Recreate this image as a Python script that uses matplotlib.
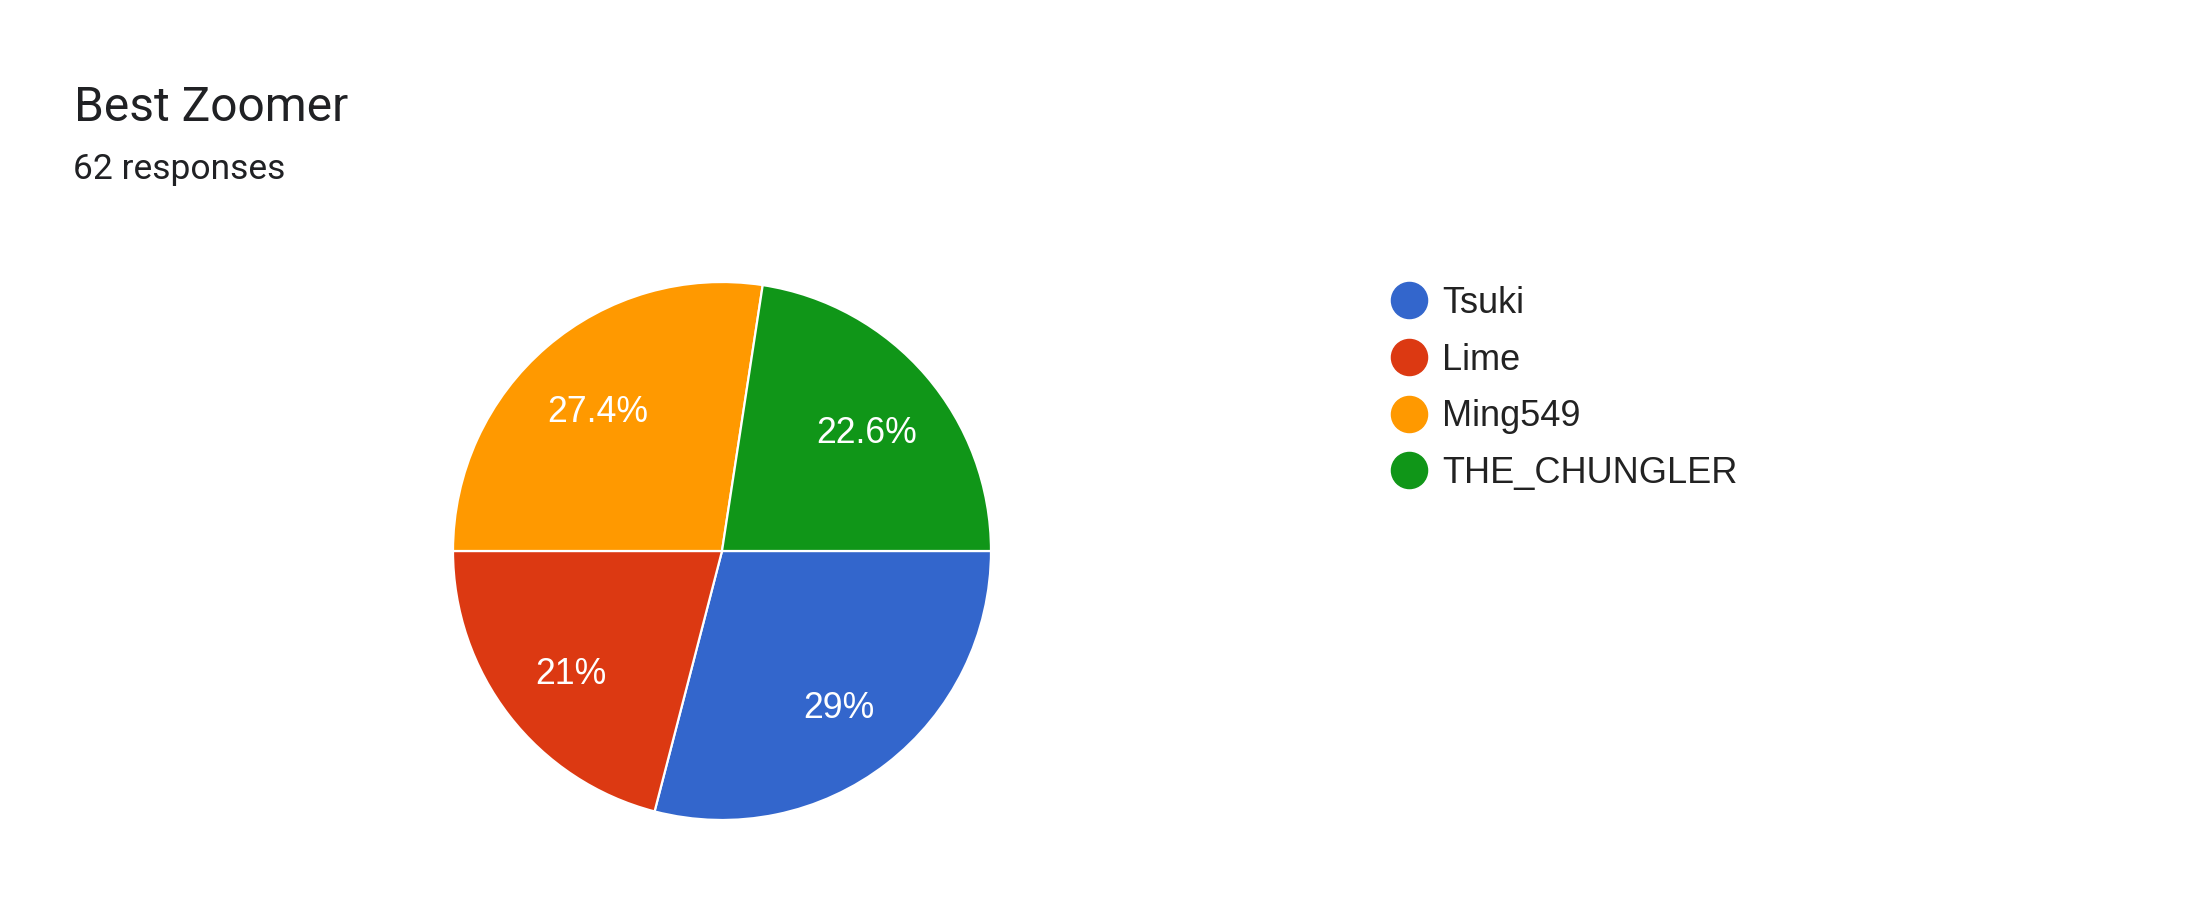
import matplotlib
matplotlib.use("Agg")
import matplotlib.pyplot as plt
from matplotlib.lines import Line2D

# dados do formulario
nomes = ["Tsuki", "Lime", "Ming549", "THE_CHUNGLER"]
votos = [18, 13, 17, 14]
cores = ["#3366cc", "#dc3912", "#ff9900", "#109618"]
titulo = "Best Zoomer"
subtitulo = "62 responses"

W, H = 2199, 924
fig = plt.figure(figsize=(W / 100, H / 100), dpi=100)

# pie centrado em (722, 551) px, raio 269 px
cx, cy, r = 722, 551, 269
ax = fig.add_axes([(cx - r) / W, (H - cy - r) / H, 2 * r / W, 2 * r / H])


def fmt(p):
    s = f"{p:.1f}"
    if s.endswith(".0"):
        s = s[:-2]
    return s + "%"


wedges, textos, pcts = ax.pie(votos, colors=cores, startangle=0, counterclock=False,
                              autopct=fmt, pctdistance=0.71, radius=1,
                              wedgeprops=dict(edgecolor="white", linewidth=1.6))
for t in pcts:
    t.set_color("white")
    t.set_fontsize(25.7)
    t.set_family("Liberation Sans")
    x, y = t.get_position()
    t.set_position((x, y - 0.025))
ax.set_xlim(-1.0, 1.0)
ax.set_ylim(-1.0, 1.0)

fig.text(74 / W, 1 - 121 / H, titulo, fontsize=34.5, family="Roboto",
         color="#202124", va="baseline")
fig.text(73 / W, 1 - 179 / H, subtitulo, fontsize=25.5, family="Roboto",
         color="#202124", va="baseline")

handles = [Line2D([], [], marker="o", linestyle="none", markersize=26,
                  markerfacecolor=c, markeredgecolor=c) for c in cores]
leg = fig.legend(handles, nomes, loc="upper left",
                 bbox_to_anchor=(1391 / W, 1 - 286 / H),
                 frameon=False, borderpad=0, borderaxespad=0,
                 handlelength=1.0, handletextpad=0.42, labelspacing=0.6,
                 prop=dict(family="Liberation Sans", size=26))
for t in leg.get_texts():
    t.set_color("#222222")

fig.savefig("out.png", dpi=100, facecolor="white")
